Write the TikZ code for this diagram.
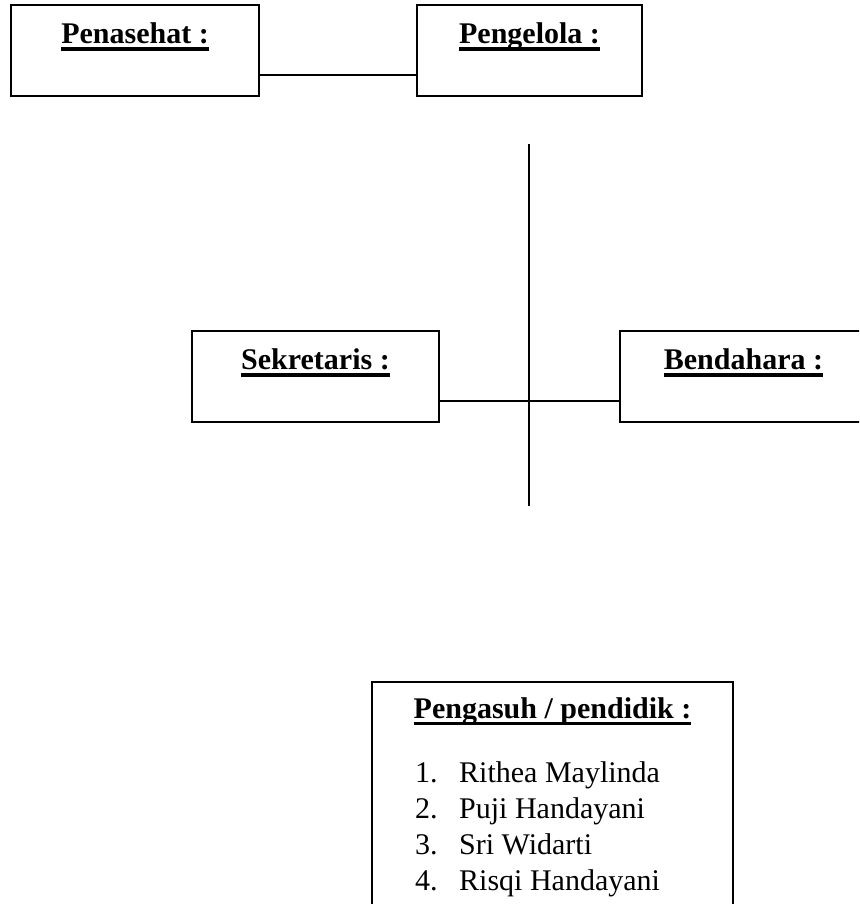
\documentclass[tikz,border=0pt]{standalone}
\usepackage{fontspec}
\setmainfont{Liberation Serif}
\newcommand\hdtext[1]{\setbox0\hbox{\bfseries #1}\rlap{\rule[-7.4pt]{\wd0}{3.6pt}}\box0}
\tikzset{
  boxst/.style={draw, line width=1.5pt, inner sep=0pt},
  hd/.style={anchor=base, inner sep=0pt, font=\fontsize{30}{36}\selectfont},
  item/.style={anchor=base west, inner sep=0pt, font=\fontsize{30}{36}\selectfont},
  conn/.style={line width=1.5pt}
}
\begin{document}
\begin{tikzpicture}[x=1pt,y=-1pt]
\clip (0,0) rectangle (859,904);
\fill[white] (0,0) rectangle (859,904);
% boxes
\node[boxst, minimum width=248pt, minimum height=91pt] (pen) at (135,50.5) {};
\node[hd] (penT) at (135,43.3) {\hdtext{Penasehat :}};
\node[boxst, minimum width=225pt, minimum height=91pt] (pgl) at (529.5,50.5) {};
\node[hd] (pglT) at (529.5,43.3) {\hdtext{Pengelola :}};
\node[boxst, minimum width=247pt, minimum height=91pt] (sek) at (315.5,376.5) {};
\node[hd] (sekT) at (315.5,369.5) {\hdtext{Sekretaris :}};
\node[boxst, minimum width=247pt, minimum height=91pt] (ben) at (743.5,376.5) {};
\node[hd] (benT) at (743.5,369.5) {\hdtext{Bendahara :}};
\node[boxst, minimum width=361pt, minimum height=258pt] (pga) at (552.5,811) {};
\node[hd] (pgaT) at (552.5,718) {\hdtext{Pengasuh / pendidik :}};
% list
\node[item] (n1) at (415,782) {1.};
\node[item] (i1) at (459,782) {Rithea Maylinda};
\node[item] (n2) at (415,818) {2.};
\node[item] (i2) at (459,818) {Puji Handayani};
\node[item] (n3) at (415,854.5) {3.};
\node[item] (i3) at (459,854.5) {Sri Widarti};
\node[item] (n4) at (415,890.5) {4.};
\node[item] (i4) at (459,890.5) {Risqi Handayani};
% connectors
\draw[conn] ([yshift=-24.5pt]pen.east) -- ([yshift=-24.5pt]pgl.west);
\coordinate (vtop) at (529,144);
\coordinate (vbot) at (529,506);
\draw[conn] (vtop) -- (vbot);
\draw[conn] ([yshift=-24.5pt]sek.east) -- ([yshift=-24.5pt]ben.west);
\end{tikzpicture}
\end{document}
